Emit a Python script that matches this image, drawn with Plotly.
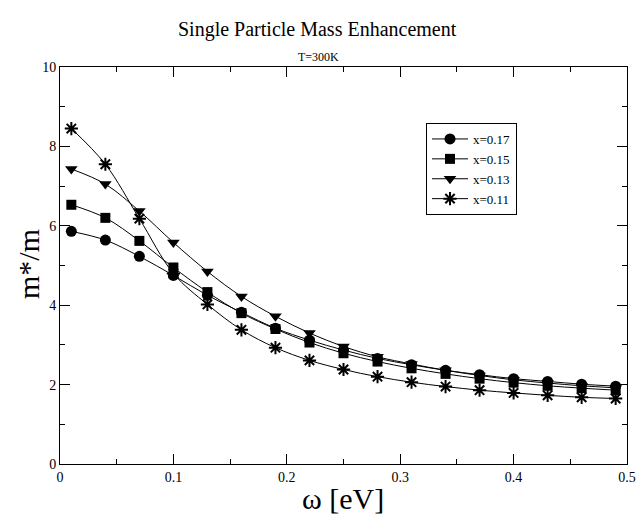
import plotly.graph_objects as go

omega = [0.01, 0.04, 0.07, 0.10, 0.13, 0.16, 0.19, 0.22, 0.25, 0.28, 0.31, 0.34, 0.37, 0.40, 0.43, 0.46, 0.49]
m_x017 = [5.86, 5.64, 5.23, 4.75, 4.25, 3.82, 3.42, 3.12, 2.87, 2.66, 2.50, 2.36, 2.25, 2.15, 2.08, 2.01, 1.96]
m_x015 = [6.53, 6.20, 5.62, 4.95, 4.33, 3.80, 3.40, 3.06, 2.79, 2.58, 2.41, 2.27, 2.15, 2.05, 1.97, 1.91, 1.86]
m_x013 = [7.43, 7.05, 6.37, 5.58, 4.85, 4.22, 3.72, 3.30, 2.96, 2.70, 2.52, 2.36, 2.23, 2.12, 2.04, 1.97, 1.92]
m_x011 = [8.45, 7.55, 6.18, 4.80, 4.02, 3.38, 2.93, 2.61, 2.38, 2.20, 2.06, 1.95, 1.86, 1.79, 1.73, 1.68, 1.65]
labels = ["x=0.17", "x=0.15", "x=0.13", "x=0.11"]

series = [m_x017, m_x015, m_x013, m_x011]
symbols = ["circle", "square", "triangle-down", "asterisk-open"]
sizes = [11, 10, 11, 11]

SERIF = "Liberation Serif, Times New Roman, serif"

W, H = 637, 515
L, R, T, B = 60, 10, 67, 51
pw, ph = W - L - R, H - T - B


def xp(px):
    return (px - L) / pw


def yp(py):
    return (H - B - py) / ph


fig = go.Figure()
for ys, lab, sym, sz in zip(series, labels, symbols, sizes):
    fig.add_trace(go.Scatter(
        x=omega, y=ys, name=lab, mode="lines+markers",
        line=dict(color="black", width=1, shape="spline"),
        marker=dict(symbol=sym, size=sz, color="black",
                    line=dict(color="black", width=2 if "asterisk" in sym else 0)),
    ))

fig.update_layout(
    width=W, height=H,
    margin=dict(l=L, r=R, t=T, b=B, autoexpand=False),
    paper_bgcolor="white", plot_bgcolor="white",
    font=dict(family=SERIF, color="black", size=14),
    showlegend=True,
    legend=dict(x=xp(426), y=yp(123), xanchor="left", yanchor="top",
                bordercolor="black", borderwidth=1, bgcolor="white",
                font=dict(family=SERIF, size=13), tracegroupgap=0,
                itemwidth=36),
    annotations=[
        dict(text="Single Particle Mass Enhancement", x=xp(317), y=yp(30),
             xref="paper", yref="paper", xanchor="center", yanchor="middle",
             showarrow=False, font=dict(size=20, family=SERIF)),
        dict(text="T=300K", x=xp(318), y=yp(57),
             xref="paper", yref="paper", xanchor="center", yanchor="middle",
             showarrow=False, font=dict(size=12, family=SERIF)),
        dict(text="m*/m", x=xp(28), y=yp(264),
             xref="paper", yref="paper", xanchor="center", yanchor="middle",
             textangle=-90, showarrow=False, font=dict(size=30, family=SERIF)),
        dict(text="ω [eV]", x=xp(343), y=yp(498),
             xref="paper", yref="paper", xanchor="center", yanchor="middle",
             showarrow=False, font=dict(size=30, family=SERIF)),
    ],
)

fig.update_xaxes(
    range=[0, 0.5], dtick=0.1, tick0=0, tickformat="~g",
    ticks="inside", ticklen=10, tickwidth=1, tickcolor="black",
    minor=dict(dtick=0.05, ticks="inside", ticklen=5, tickcolor="black"),
    showline=True, linecolor="black", linewidth=1, mirror="ticks",
    showgrid=False, zeroline=False, automargin=False,
    tickfont=dict(size=14, family=SERIF),
)
fig.update_yaxes(
    range=[0, 10], dtick=2, tick0=0,
    ticks="inside", ticklen=10, tickwidth=1, tickcolor="black",
    minor=dict(dtick=1, ticks="inside", ticklen=5, tickcolor="black"),
    showline=True, linecolor="black", linewidth=1, mirror="ticks",
    showgrid=False, zeroline=False, automargin=False,
    tickfont=dict(size=14, family=SERIF),
)

fig.write_html("out.html")
